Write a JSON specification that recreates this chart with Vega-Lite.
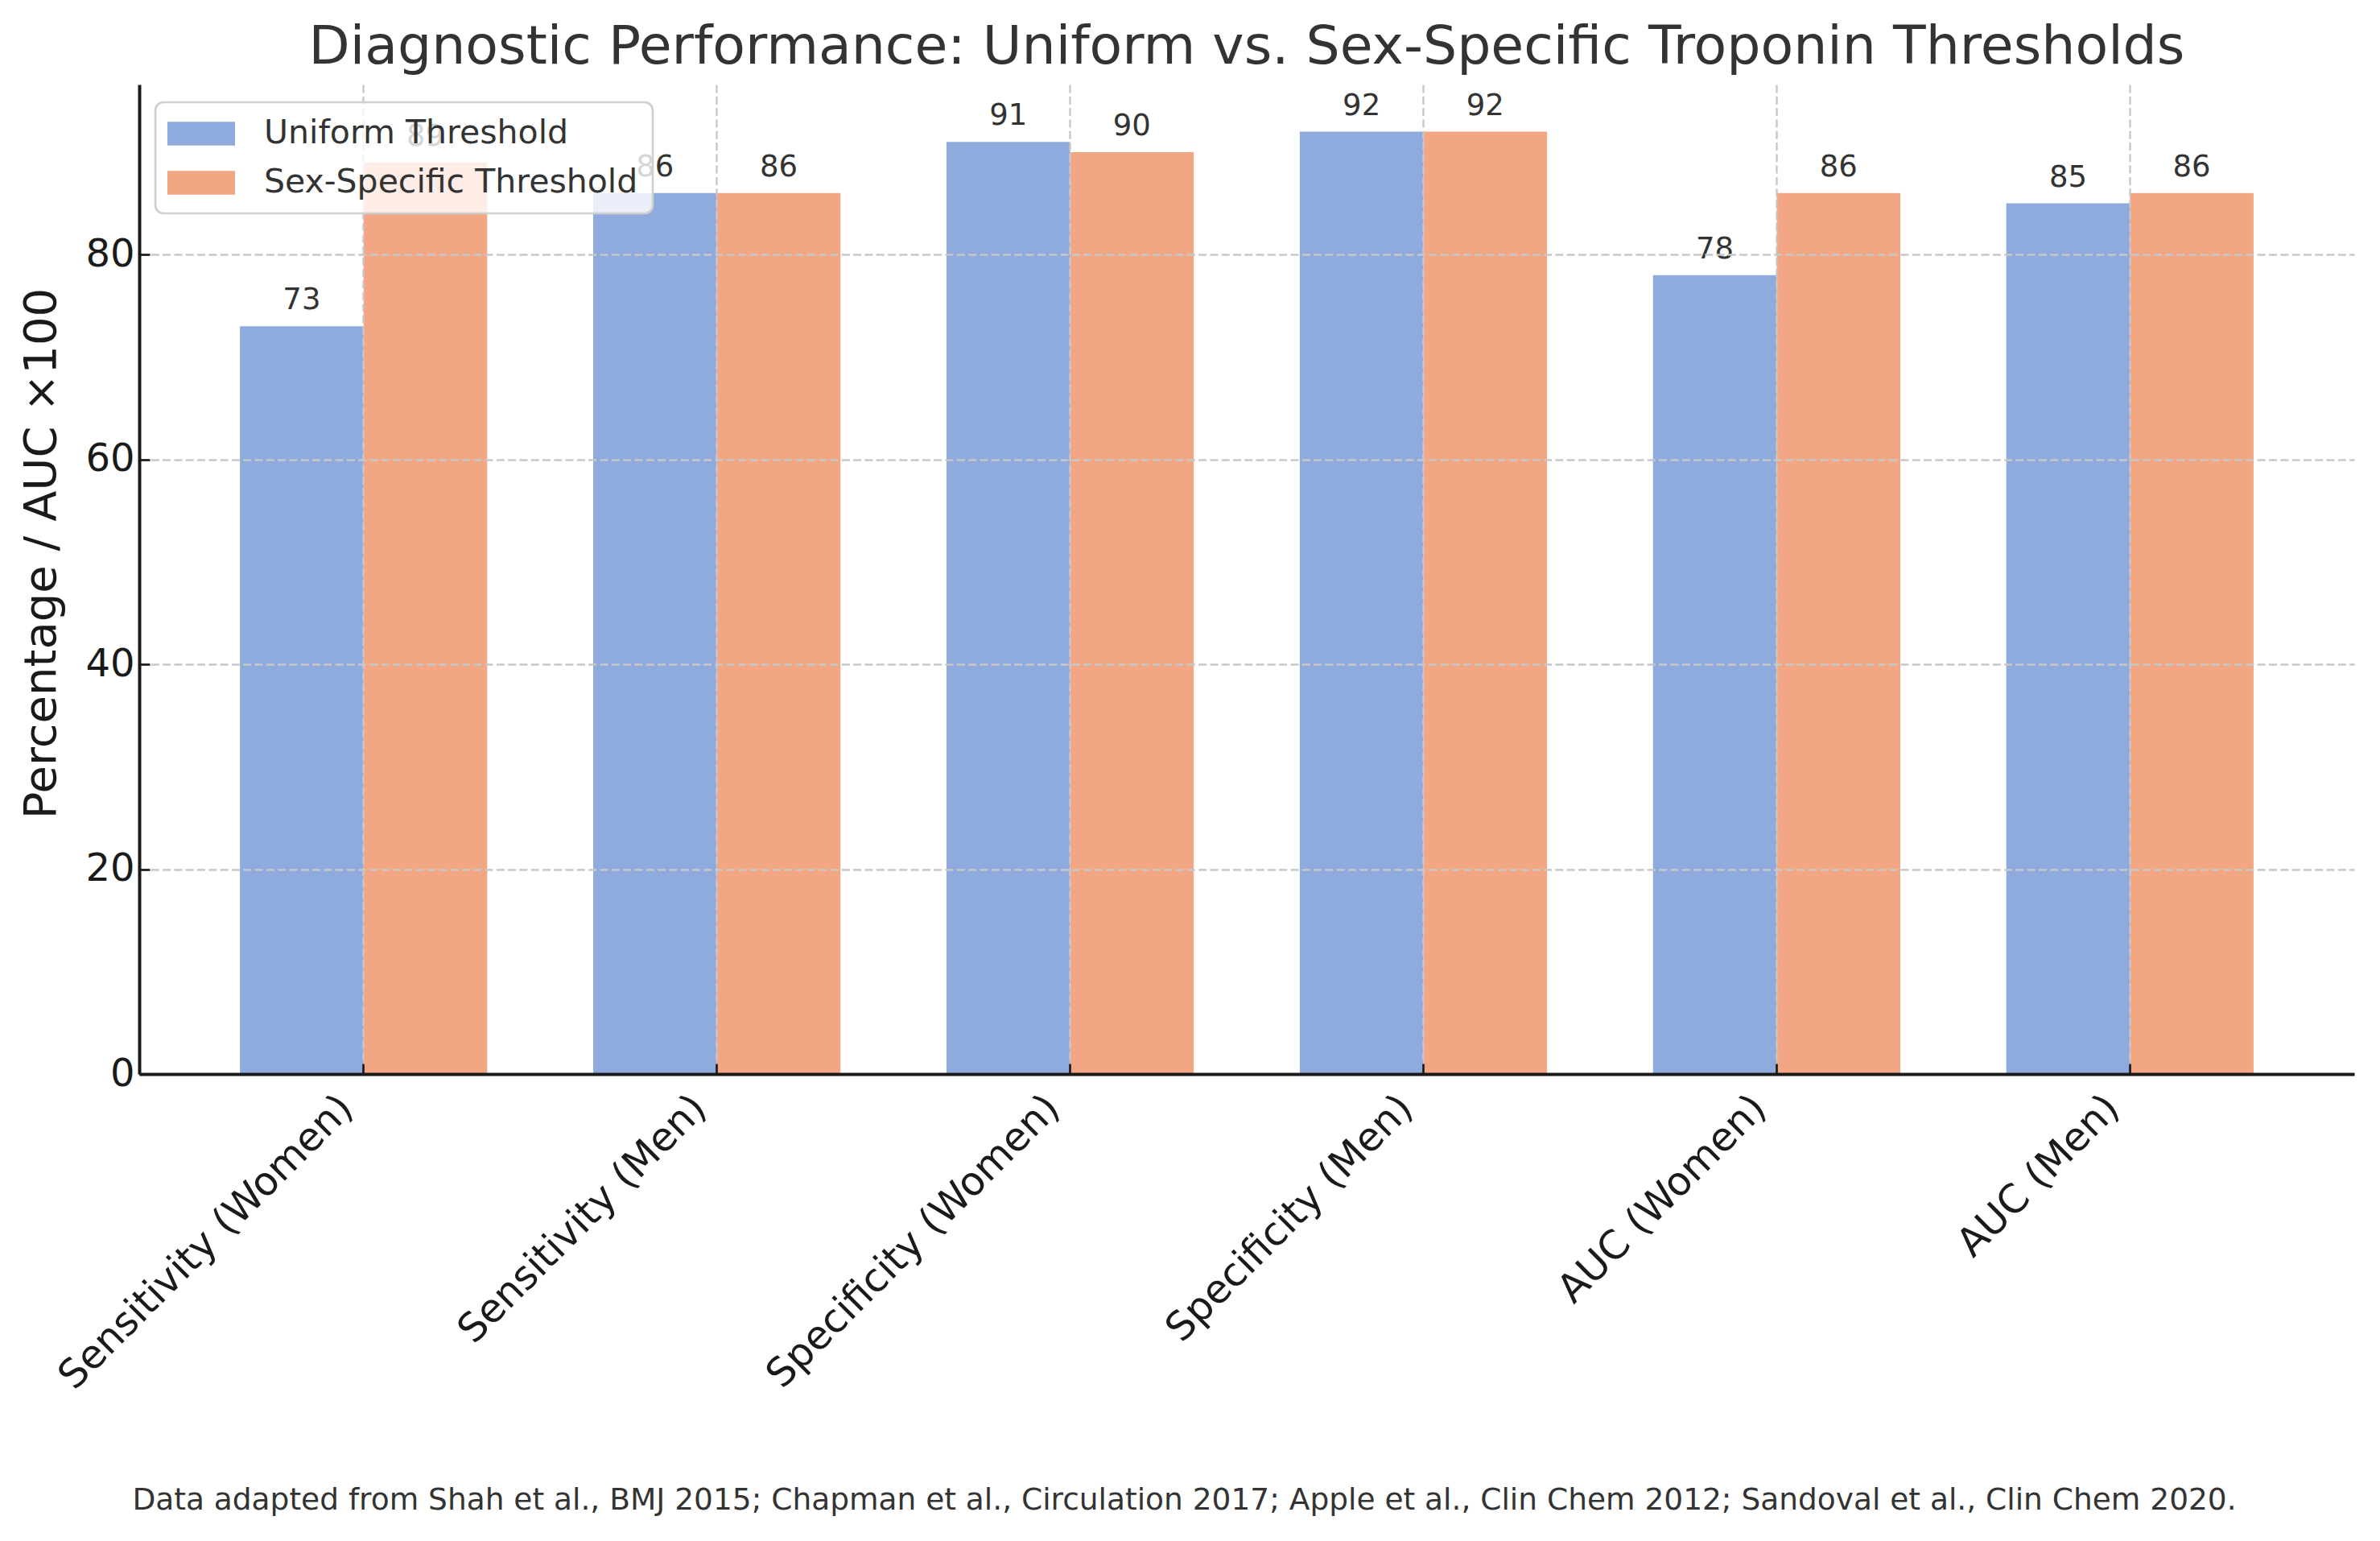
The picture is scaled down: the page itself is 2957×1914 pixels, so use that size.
{
  "$schema": "https://vega.github.io/schema/vega-lite/v6.json",
  "width": 2752,
  "height": 1229,
  "autosize": {"type": "none"},
  "padding": {"left": 173, "top": 105, "right": 32, "bottom": 580},
  "background": "white",
  "title": {
    "text": "Diagnostic Performance: Uniform vs. Sex-Specific Troponin Thresholds",
    "font": "DejaVu Sans",
    "fontSize": 66.5,
    "fontWeight": "normal",
    "color": "#333333",
    "anchor": "middle",
    "frame": "group",
    "baseline": "alphabetic",
    "offset": -40
  },
  "data": {
    "values": [
      {"metric": "Sensitivity (Women)", "threshold": "Uniform Threshold", "value": 73},
      {"metric": "Sensitivity (Women)", "threshold": "Sex-Specific Threshold", "value": 89},
      {"metric": "Sensitivity (Men)", "threshold": "Uniform Threshold", "value": 86},
      {"metric": "Sensitivity (Men)", "threshold": "Sex-Specific Threshold", "value": 86},
      {"metric": "Specificity (Women)", "threshold": "Uniform Threshold", "value": 91},
      {"metric": "Specificity (Women)", "threshold": "Sex-Specific Threshold", "value": 90},
      {"metric": "Specificity (Men)", "threshold": "Uniform Threshold", "value": 92},
      {"metric": "Specificity (Men)", "threshold": "Sex-Specific Threshold", "value": 92},
      {"metric": "AUC (Women)", "threshold": "Uniform Threshold", "value": 78},
      {"metric": "AUC (Women)", "threshold": "Sex-Specific Threshold", "value": 86},
      {"metric": "AUC (Men)", "threshold": "Uniform Threshold", "value": 85},
      {"metric": "AUC (Men)", "threshold": "Sex-Specific Threshold", "value": 86}
    ]
  },
  "encoding": {
    "x": {
      "field": "metric",
      "type": "nominal",
      "sort": null,
      "scale": {"paddingInner": 0.3, "paddingOuter": 0.285},
      "axis": {
        "title": "Data adapted from Shah et al., BMJ 2015; Chapman et al., Circulation 2017; Apple et al., Clin Chem 2012; Sandoval et al., Clin Chem 2020.",
        "titleFont": "DejaVu Sans",
        "titleFontSize": 37.5,
        "titleFontWeight": "normal",
        "titleColor": "#333333",
        "titleX": 1298,
        "titleY": 540,
        "titleAlign": "center",
        "titleAnchor": null,
        "titleBaseline": "alphabetic",
        "bandPosition": 0.5,
        "labelAngle": -45,
        "labelAlign": "right",
        "labelBaseline": "middle",
        "labelPadding": 47,
        "labelOffset": -21,
        "labelFontSize": 49,
        "labelLimit": 2000,
        "labelOverlap": false,
        "grid": true,
        "zindex": 1
      }
    },
    "xOffset": {
      "field": "threshold",
      "type": "nominal",
      "sort": ["Uniform Threshold", "Sex-Specific Threshold"],
      "scale": {"paddingInner": 0, "paddingOuter": 0}
    },
    "y": {
      "field": "value",
      "type": "quantitative",
      "scale": {"domain": [0, 96.6], "nice": false, "zero": true},
      "axis": {
        "title": "Percentage / AUC ×100",
        "titleFont": "DejaVu Sans",
        "titleFontSize": 56,
        "titleFontWeight": "normal",
        "titleColor": "#1a1a1a",
        "titleAngle": 270,
        "titleX": -122,
        "titleY": 582,
        "titleAlign": "center",
        "titleAnchor": null,
        "titleBaseline": "middle",
        "values": [0, 20, 40, 60, 80],
        "labelPadding": 19,
        "labelFontSize": 48,
        "grid": true,
        "zindex": 1
      }
    }
  },
  "layer": [
    {
      "mark": {"type": "bar"},
      "encoding": {
        "color": {
          "field": "threshold",
          "type": "nominal",
          "sort": ["Uniform Threshold", "Sex-Specific Threshold"],
          "scale": {"domain": ["Uniform Threshold", "Sex-Specific Threshold"], "range": ["#8FAADC", "#F3A683"]},
          "legend": {
            "title": null,
            "orient": "none",
            "legendX": 20,
            "legendY": 22,
            "padding": 18,
            "fillColor": "rgba(255,255,255,0.8)",
            "strokeColor": "#d0d0d0",
            "cornerRadius": 10,
            "symbolType": "M-2,-0.7L2,-0.7L2,0.7L-2,0.7Z",
            "symbolSize": 1764,
            "symbolOffset": 18,
            "symbolStrokeWidth": 0,
            "symbolOpacity": 1,
            "labelFont": "DejaVu Sans",
            "labelFontSize": 41,
            "labelColor": "#333333",
            "labelOffset": 57,
            "labelLimit": 2000,
            "rowPadding": 20,
            "zindex": 2,
            "encode": {"legend": {"update": {"strokeWidth": {"value": 2.7}}}}
          }
        }
      }
    },
    {
      "mark": {
        "type": "text",
        "baseline": "alphabetic",
        "align": "center",
        "dy": -21,
        "font": "DejaVu Sans",
        "fontSize": 37,
        "color": "#333333"
      },
      "encoding": {
        "text": {"field": "value", "type": "quantitative"}
      }
    }
  ],
  "config": {
    "view": {"stroke": null},
    "axis": {
      "domainColor": "#1a1a1a",
      "domainWidth": 4,
      "tickColor": "#1a1a1a",
      "tickWidth": 2.7,
      "tickSize": -13,
      "labelFont": "DejaVu Sans",
      "labelFontSize": 47,
      "labelColor": "#1a1a1a",
      "gridColor": "#c8c8c8",
      "gridDash": [10, 4.3],
      "gridWidth": 2.4
    }
  }
}
